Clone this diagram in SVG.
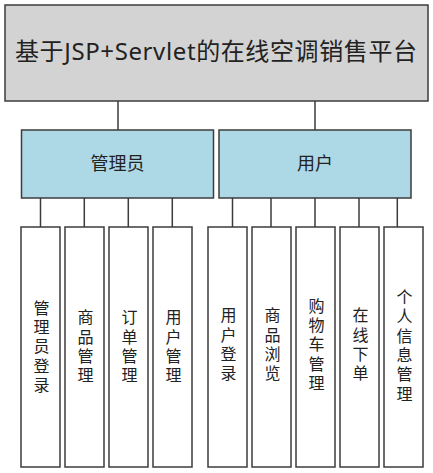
<svg xmlns="http://www.w3.org/2000/svg" width="433" height="473" viewBox="0 0 433 473">
<style>
.box{stroke:#3c3c3c;stroke-width:1.5}
.top{fill:#d3d3d3}
.mid{fill:#add8e6}
.leaf{fill:#ffffff}
.t{font-family:"Noto Sans","Noto Sans CJK SC",sans-serif;fill:#222;text-anchor:middle}
.lt{font-size:16px;writing-mode:vertical-rl;text-orientation:upright;letter-spacing:3.3px}
.conn{stroke:#3c3c3c;stroke-width:1.5;fill:none}
</style>
<rect width="433" height="473" fill="#ffffff"/>
<g id="connectors">
<path class="conn" d="M118 101V130M315 101V130M40.5 198V227M84.3 198V227M128.3 198V227M172.3 198V227M232.5 198V227M271 198V227M315 198V227M359 198V227M397.3 198V227"/>
</g>
<g id="root">
<rect class="box top" x="5" y="5" width="423" height="96"/>
<text class="t" x="216" y="60" font-size="24" textLength="402" lengthAdjust="spacing">基于JSP+Servlet的在线空调销售平台</text>
</g>
<g id="admin">
<rect class="box mid" x="21.5" y="130" width="192" height="68"/>
<text class="t" x="117.5" y="170" font-size="18">管理员</text>
</g>
<g id="user">
<rect class="box mid" x="219" y="130" width="192" height="68"/>
<text class="t" x="315" y="170" font-size="18">用户</text>
</g>
<g id="leaf1"><rect class="box leaf" x="21" y="227" width="39" height="240"/>
<text class="t lt" x="40.5" y="348">管理员登录</text></g>
<g id="leaf2"><rect class="box leaf" x="65" y="227" width="39" height="240"/>
<text class="t lt" x="84.5" y="348">商品管理</text></g>
<g id="leaf3"><rect class="box leaf" x="109" y="227" width="39" height="240"/>
<text class="t lt" x="128.5" y="348">订单管理</text></g>
<g id="leaf4"><rect class="box leaf" x="153" y="227" width="39" height="240"/>
<text class="t lt" x="172.5" y="348">用户管理</text></g>
<g id="leaf5"><rect class="box leaf" x="208" y="227" width="39" height="240"/>
<text class="t lt" x="227.5" y="346">用户登录</text></g>
<g id="leaf6"><rect class="box leaf" x="252" y="227" width="39" height="240"/>
<text class="t lt" x="271.5" y="346">商品浏览</text></g>
<g id="leaf7"><rect class="box leaf" x="296" y="227" width="39" height="240"/>
<text class="t lt" x="315.5" y="346">购物车管理</text></g>
<g id="leaf8"><rect class="box leaf" x="340" y="227" width="39" height="240"/>
<text class="t lt" x="359.5" y="346">在线下单</text></g>
<g id="leaf9"><rect class="box leaf" x="384" y="227" width="39" height="240"/>
<text class="t lt" x="403.5" y="347" letter-spacing="4">个人信息管理</text></g>
</svg>
